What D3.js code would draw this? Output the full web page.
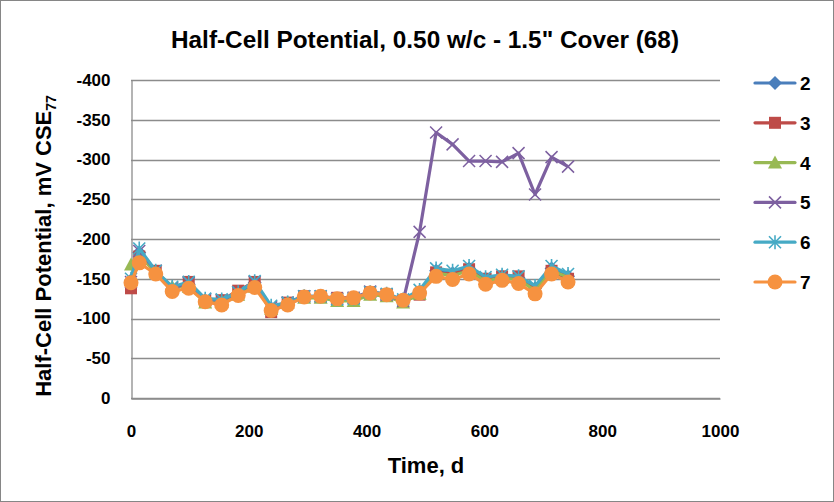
<!DOCTYPE html>
<html>
<head>
<meta charset="utf-8">
<script src="https://d3js.org/d3.v7.min.js"></script>
<style>
  body { margin: 0; background: #fff; }
  svg text { font-family: "Liberation Sans", Arial, sans-serif; font-weight: bold; fill: #000; }
</style>
</head>
<body>
<div id="chart"></div>
<script>
// time in days
var days = [0, 14, 42, 70, 98, 126, 154, 182, 210, 238, 266, 294, 322, 350, 378, 406, 434, 462, 490, 518, 546, 574, 602, 630, 658, 686, 714, 742];

// half-cell potential, mV CSE, per specimen
var s2 = [-148, -183, -158, -137, -143, -123, -123, -131, -145, -113, -119, -127, -128, -124, -125, -132, -130, -122, -134, -160, -157, -163, -150, -153, -151, -138, -163, -153];
var s3 = [-138, -178, -160, -136, -146, -122, -123, -135, -146, -108, -120, -128, -127, -126, -126, -133, -130, -122, -130, -158, -155, -162, -150, -153, -153, -137, -160, -150];
var s4 = [-168, -180, -158, -140, -140, -120, -121, -130, -140, -112, -120, -126, -126, -122, -122, -130, -128, -120, -131, -157, -154, -160, -147, -151, -149, -135, -160, -152];
var s5 = [-146, -185, -160, -138, -145, -124, -123, -133, -146, -114, -120, -128, -128, -125, -126, -134, -130, -122, -209, -334, -319, -298, -298, -297, -308, -256, -303, -291];
var s6 = [-150, -188, -160, -140, -146, -125, -124, -133, -147, -116, -120, -128, -128, -124, -125, -133, -131, -124, -136, -163, -160, -166, -152, -155, -153, -141, -166, -156];
var s7 = [-145, -170, -156, -134, -138, -121, -117, -129, -139, -110, -117, -127, -128, -125, -126, -132, -130, -123, -132, -153, -149, -156, -143, -148, -144, -131, -156, -146];

var seriesNames = ["2", "3", "4", "5", "6", "7"];
var xTicks = [0, 200, 400, 600, 800, 1000];
var yTicks = [0, -50, -100, -150, -200, -250, -300, -350, -400];

var series = [
  { name: "2", values: s2, color: "#4A7EBB", mark: "diamond" },
  { name: "3", values: s3, color: "#BE4B48", mark: "square" },
  { name: "4", values: s4, color: "#98B954", mark: "triangle" },
  { name: "5", values: s5, color: "#7D60A0", mark: "x" },
  { name: "6", values: s6, color: "#46AAC5", mark: "star" },
  { name: "7", values: s7, color: "#F69240", mark: "circle" }
];

var W = 834, H = 502;
var svg = d3.select("#chart").append("svg").attr("width", W).attr("height", H);

// outer chart border
svg.append("rect").attr("x", 0.5).attr("y", 0.5).attr("width", W - 1).attr("height", H - 1)
  .attr("fill", "#fff").attr("stroke", "#868686");

var x = d3.scaleLinear().domain([0, 1000]).range([131, 720]);
var y = d3.scaleLinear().domain([0, -400]).range([398, 80]);

// gridlines
svg.append("g").selectAll("line").data(yTicks).enter().append("line")
  .attr("x1", x(0)).attr("x2", x(1000))
  .attr("y1", function (d) { return Math.round(y(d)) + 0.5; })
  .attr("y2", function (d) { return Math.round(y(d)) + 0.5; })
  .attr("stroke", "#8c8c8c").attr("stroke-width", 1.3);

// axes (plain hyphen for negatives, like the original)
var yAxis = svg.append("g").attr("transform", "translate(" + (x(0) + 0.5) + ",0)")
  .call(d3.axisLeft(y).tickValues(yTicks).tickSize(0).tickPadding(21).tickFormat(function (d) { return String(d); }));
var xAxis = svg.append("g").attr("transform", "translate(0," + (y(0) + 0.5) + ")")
  .call(d3.axisBottom(x).tickValues(xTicks).tickSize(0).tickPadding(26).tickFormat(function (d) { return String(d); }));
[xAxis, yAxis].forEach(function (a) {
  a.select(".domain").attr("stroke", "#8c8c8c").attr("stroke-width", 1.3);
  a.selectAll("text").style("font-size", "17px");
});

// titles
svg.append("text").attr("x", 425).attr("y", 48).attr("text-anchor", "middle")
  .attr("textLength", 508).attr("lengthAdjust", "spacingAndGlyphs")
  .style("font-size", "23px").text("Half-Cell Potential, 0.50 w/c - 1.5\" Cover (68)");
svg.append("text").attr("x", 426).attr("y", 473).attr("text-anchor", "middle")
  .style("font-size", "22px").text("Time, d");
var yl = svg.append("text").attr("transform", "translate(51,246) rotate(-90)")
  .attr("text-anchor", "middle").style("font-size", "22px");
yl.append("tspan").text("Half-Cell Potential, mV CSE");
yl.append("tspan").attr("dy", 5).style("font-size", "14px").text("77");

function drawMarker(g, type, color) {
  if (type === "diamond") {
    g.append("path").attr("d", "M0,-7L7,0L0,7L-7,0Z").attr("fill", color);
  } else if (type === "square") {
    g.append("rect").attr("x", -6).attr("y", -6).attr("width", 12).attr("height", 12).attr("fill", color);
  } else if (type === "triangle") {
    g.append("path").attr("d", "M0,-7L7,6L-7,6Z").attr("fill", color);
  } else if (type === "x") {
    g.append("path").attr("d", "M-6,-6L6,6M-6,6L6,-6").attr("stroke", color).attr("stroke-width", 1.5);
  } else if (type === "star") {
    g.append("path").attr("d", "M-6,-6L6,6M-6,6L6,-6M0,-7L0,7").attr("stroke", color).attr("stroke-width", 1.6);
  } else {
    g.append("circle").attr("r", 7.5).attr("fill", color);
  }
}

var line = d3.line().x(function (d) { return x(d[0]); }).y(function (d) { return y(d[1]); });

series.forEach(function (s) {
  var pts = days.map(function (t, i) { return [t, s.values[i]]; });
  var g = svg.append("g");
  g.append("path").datum(pts).attr("d", line).attr("fill", "none")
    .attr("stroke", s.color).attr("stroke-width", 3.2).attr("stroke-linejoin", "round");
  pts.forEach(function (p) {
    drawMarker(g.append("g").attr("transform", "translate(" + x(p[0]) + "," + y(p[1]) + ")"), s.mark, s.color);
  });
});

// legend
var legend = svg.append("g");
series.forEach(function (s, i) {
  var ly = 83 + i * 39.8;
  var lg = legend.append("g").attr("transform", "translate(0," + ly + ")");
  lg.append("line").attr("x1", 755).attr("x2", 795).attr("stroke", s.color).attr("stroke-width", 3.2).attr("stroke-linecap", "round");
  drawMarker(lg.append("g").attr("transform", "translate(775,0)"), s.mark, s.color);
  lg.append("text").attr("x", 800).attr("y", 7).style("font-size", "19px").text(seriesNames[i]);
});
</script>
</body>
</html>
